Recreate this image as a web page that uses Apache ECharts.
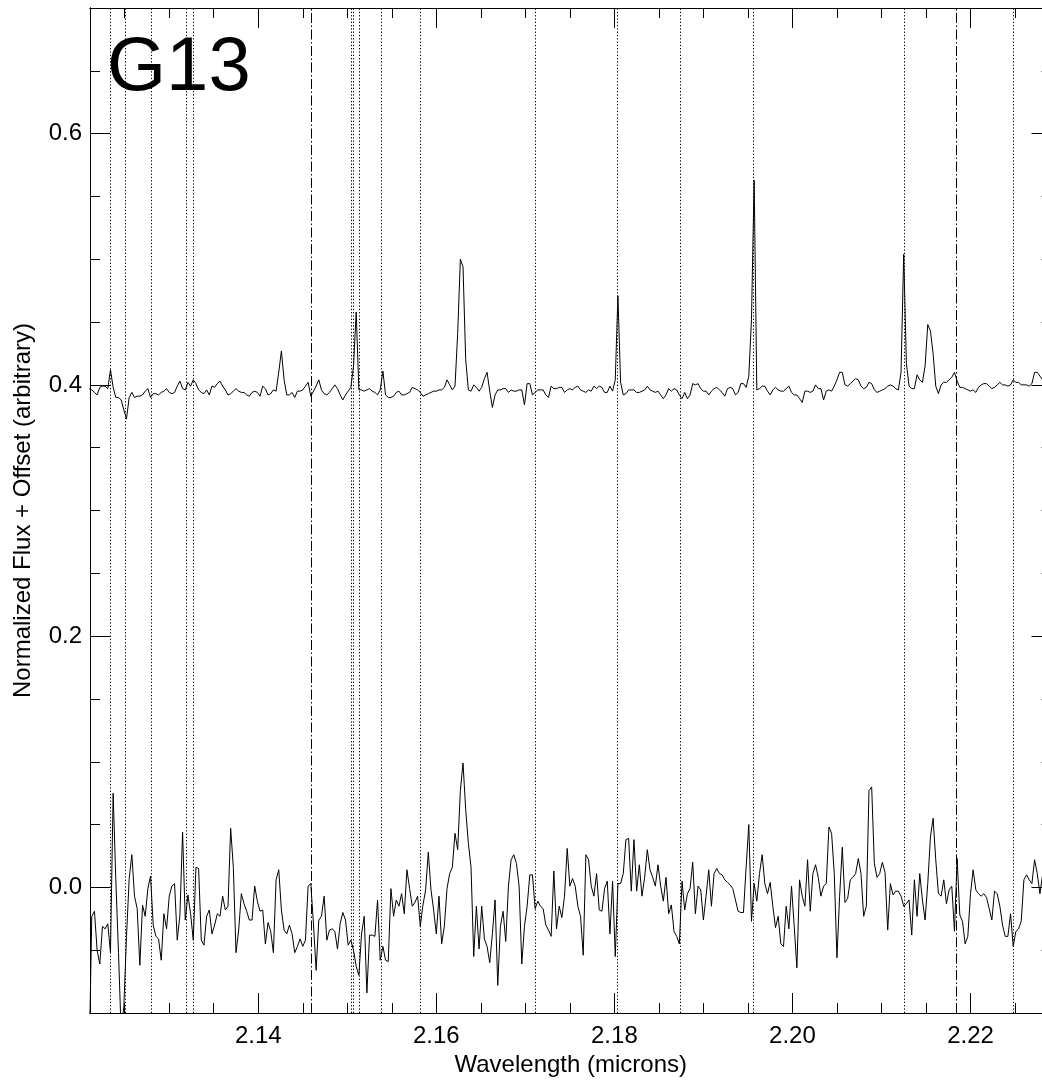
<!DOCTYPE html>
<html>
<head>
<meta charset="utf-8">
<script src="https://cdn.jsdelivr.net/npm/echarts@6/dist/echarts.min.js"></script>
<style>
  html, body { margin: 0; padding: 0; background: #ffffff; overflow: hidden; }
  /* the plot frame runs a few pixels past the right edge of the page */
  #chart { width: 1052px; height: 1082px; }
</style>
</head>
<body>
<div id="chart"></div>
<script>
// Wavelength grid of the extracted spectrum (microns)
const wavelengthStart = 2.1210;
const wavelengthStep = 0.0003;

// Normalized flux shifted up by +0.4
const fluxOffset = [
  0.397,0.396,0.394,0.392,0.398,0.399,0.399,0.397,0.412,0.398,
  0.390,0.390,0.388,0.380,0.373,0.390,0.394,0.390,0.391,0.391,
  0.392,0.395,0.397,0.390,0.393,0.393,0.392,0.394,0.395,0.397,
  0.394,0.393,0.394,0.399,0.403,0.397,0.396,0.402,0.399,0.404,
  0.401,0.396,0.394,0.393,0.396,0.392,0.399,0.398,0.401,0.403,
  0.399,0.396,0.392,0.393,0.395,0.397,0.395,0.394,0.394,0.392,
  0.391,0.394,0.395,0.394,0.391,0.399,0.397,0.392,0.393,0.396,
  0.395,0.410,0.427,0.404,0.392,0.392,0.394,0.390,0.395,0.395,
  0.396,0.399,0.402,0.391,0.395,0.399,0.404,0.396,0.393,0.392,
  0.394,0.397,0.400,0.397,0.392,0.388,0.392,0.395,0.398,0.415,
  0.458,0.396,0.396,0.395,0.396,0.397,0.395,0.394,0.392,0.396,
  0.411,0.392,0.390,0.390,0.391,0.394,0.395,0.392,0.392,
  0.393,0.394,0.398,0.397,0.396,0.394,0.391,0.392,0.393,0.394,
  0.395,0.395,0.396,0.396,0.398,0.404,0.400,0.396,0.399,0.441,
  0.500,0.494,0.420,0.396,0.395,0.400,0.398,0.395,0.398,0.405,
  0.410,0.395,0.382,0.392,0.396,0.396,0.397,0.397,0.394,0.396,
  0.395,0.395,0.396,0.396,0.384,0.401,0.401,0.392,0.394,0.396,
  0.396,0.396,0.392,0.390,0.399,0.397,0.397,0.398,0.398,0.394,
  0.396,0.397,0.396,0.398,0.399,0.396,0.395,0.394,0.396,0.395,
  0.399,0.397,0.399,0.398,0.394,0.394,0.399,0.395,0.404,0.471,
  0.402,0.392,0.393,0.396,0.396,0.396,0.394,0.394,0.395,0.396,
  0.399,0.396,0.395,0.394,0.395,0.392,0.389,0.392,0.397,0.395,
  0.397,0.396,0.392,0.389,0.394,0.389,0.392,0.401,0.400,0.401,
  0.397,0.395,0.395,0.392,0.395,0.397,0.398,0.396,
  0.394,0.391,0.397,0.398,0.397,0.392,0.394,0.401,0.401,0.398,
  0.407,0.452,0.563,0.396,0.397,0.399,0.399,0.395,0.392,0.396,
  0.398,0.396,0.395,0.395,0.397,0.399,0.394,0.392,0.392,0.389,
  0.386,0.395,0.395,0.394,0.395,0.400,0.397,0.397,0.388,0.395,
  0.396,0.395,0.399,0.404,0.410,0.410,0.400,0.399,0.401,0.403,
  0.405,0.404,0.399,0.397,0.398,0.402,0.401,0.396,0.394,0.395,
  0.396,0.397,0.399,0.400,0.399,0.397,0.396,0.410,0.504,0.417,
  0.399,0.397,0.397,0.408,0.404,0.402,0.415,0.448,0.443,0.425,
  0.399,0.393,0.400,0.402,0.402,0.404,0.406,0.410,0.403,0.398,
  0.398,0.397,0.396,0.395,0.396,0.394,0.398,0.400,0.401,0.401,
  0.399,0.397,0.398,0.400,0.402,0.400,0.400,0.399,0.400,0.404,
  0.402,0.402,0.400,0.400,0.400,0.399,0.401,0.410,0.410,0.407,
  0.404,0.403,0.402,0.402
];

// Residual flux around zero
const fluxResidual = [
  -0.140,-0.023,-0.019,-0.050,-0.061,-0.031,-0.033,-0.029,-0.052,0.075,
  0.006,-0.052,-0.115,-0.095,-0.039,0.007,0.026,-0.007,-0.017,-0.062,
  -0.014,-0.023,-0.001,0.009,-0.030,-0.039,-0.041,-0.058,-0.021,-0.033,
  -0.007,0.001,0.003,-0.042,-0.022,0.044,-0.026,-0.006,-0.021,-0.042,
  0.016,0.015,-0.042,-0.046,-0.023,-0.018,-0.037,-0.030,-0.021,-0.023,
  -0.007,-0.018,-0.015,0.047,0.016,-0.052,-0.034,-0.005,-0.013,-0.019,
  -0.026,-0.026,0.001,-0.011,-0.019,-0.018,-0.045,-0.028,-0.035,-0.052,
  0.006,0.014,-0.018,-0.034,-0.037,-0.030,-0.037,-0.052,-0.047,-0.041,
  -0.047,-0.042,0.001,0.003,-0.029,-0.066,-0.026,-0.023,-0.007,-0.042,
  -0.034,-0.033,-0.035,-0.049,-0.029,-0.020,-0.026,-0.046,-0.042,-0.050,
  -0.063,-0.070,-0.037,-0.023,-0.084,-0.038,-0.038,-0.039,-0.010,-0.058,
  -0.047,-0.058,-0.059,-0.001,-0.023,-0.010,-0.015,-0.005,-0.021,
  0.014,-0.001,-0.015,-0.012,-0.007,-0.031,-0.014,-0.002,0.028,-0.002,
  -0.018,-0.037,-0.007,-0.045,-0.031,-0.001,0.011,0.016,0.043,0.030,
  0.077,0.099,0.062,0.035,0.016,-0.055,-0.015,-0.049,-0.015,-0.041,
  -0.047,-0.060,-0.037,-0.010,-0.078,-0.031,-0.019,-0.043,0.001,0.022,
  0.026,0.019,0.001,-0.061,-0.031,-0.015,0.010,0.010,-0.017,-0.011,
  -0.015,-0.017,-0.030,-0.034,-0.039,0.013,-0.033,-0.015,-0.024,-0.007,
  0.031,0.001,0.007,0.001,-0.015,-0.023,-0.054,0.026,0.022,0.001,
  -0.007,0.011,-0.018,-0.019,-0.001,0.005,-0.037,0.005,-0.055,0.003,
  0.003,0.011,0.038,0.039,-0.003,0.038,-0.003,0.018,-0.007,0.008,
  0.030,0.014,0.008,0.001,0.018,0.001,-0.011,0.008,-0.021,-0.014,
  -0.035,-0.039,-0.045,0.005,-0.018,-0.005,-0.001,0.020,-0.021,0.001,
  -0.002,-0.026,-0.007,0.014,-0.015,0.011,0.015,0.011,
  0.010,0.006,0.004,0.002,-0.001,-0.010,-0.019,-0.020,-0.020,0.016,
  0.050,-0.027,0.003,-0.011,0.011,0.026,0.003,-0.005,0.004,-0.015,
  -0.032,-0.023,-0.045,-0.047,-0.015,-0.033,0.001,-0.031,-0.064,0.006,
  -0.007,-0.015,0.022,-0.019,0.011,0.018,0.008,-0.007,0.001,0.003,
  0.048,0.043,0.011,-0.056,-0.007,0.032,-0.012,-0.009,0.006,0.008,
  0.011,0.023,0.011,-0.023,-0.015,0.077,0.080,0.019,0.008,0.011,
  0.020,0.012,-0.034,0.003,-0.006,-0.003,-0.003,-0.007,-0.015,-0.013,
  -0.010,-0.038,0.006,-0.023,0.011,-0.010,-0.026,0.003,0.040,0.055,
  0.022,-0.005,-0.007,0.006,-0.013,-0.002,0.001,-0.035,0.023,-0.022,
  -0.027,-0.045,-0.039,-0.005,0.014,-0.002,-0.005,-0.007,-0.005,-0.008,
  -0.017,-0.026,-0.003,-0.005,-0.015,-0.030,-0.039,-0.039,-0.021,-0.047,
  -0.035,-0.033,-0.027,0.006,0.010,0.006,0.003,0.022,0.011,-0.005,
  0.010,0.006,0.001,0.003
];

// Line positions marked on the plot (microns)
const dottedLines = [
  2.12335, 2.12504, 2.12796, 2.13189, 2.13268, 2.15039, 2.15067, 2.15129,
  2.15379, 2.15814, 2.17114, 2.18027, 2.18738, 2.19558, 2.21259, 2.22483
];
const dashDotLines = [2.14593, 2.21843];

// Axis ranges and ticks
const xRange = [2.1211, 2.2291];
const yRange = [-0.1, 0.7];
const xMajorTicks = [2.14, 2.16, 2.18, 2.20, 2.22];
const xMinorTicks = [2.125, 2.13, 2.135, 2.145, 2.15, 2.155, 2.165, 2.17, 2.175,
                     2.185, 2.19, 2.195, 2.205, 2.21, 2.215, 2.225];
const yMajorTicks = [0.0, 0.2, 0.4, 0.6];
const yMinorTicks = [-0.05, 0.05, 0.1, 0.15, 0.25, 0.3, 0.35, 0.45, 0.5, 0.55, 0.65];

const FONT = 'Liberation Sans, Arial, Helvetica, sans-serif';
const INK = '#000000';

function toPairs(values) {
  return values.map((v, i) => [wavelengthStart + i * wavelengthStep, v]);
}

function makeAxis(kind, position, ticks, tickLen, withLabels, extra) {
  const range = kind === 'x' ? xRange : yRange;
  const axis = {
    type: 'value',
    position: position,
    min: range[0],
    max: range[1],
    axisLine: { show: true, onZero: false, lineStyle: { color: INK, width: 1 } },
    axisTick: {
      show: true, inside: true, length: tickLen, customValues: ticks,
      lineStyle: { color: INK, width: 1 }
    },
    axisLabel: {
      show: withLabels,
      customValues: ticks,
      color: INK,
      fontFamily: FONT,
      fontSize: 24,
      margin: kind === 'x' ? 11 : 8,
      formatter: (v) => kind === 'x' ? v.toFixed(2) : v.toFixed(1)
    },
    splitLine: { show: false },
    minorTick: { show: false },
    splitArea: { show: false }
  };
  return Object.assign(axis, extra || {});
}

const chart = echarts.init(document.getElementById('chart'), null, { renderer: 'canvas' });

const markLineData = dottedLines.map(v => ({
  xAxis: v,
  lineStyle: { type: [1.3, 2], color: INK, width: 1 }
})).concat(dashDotLines.map(v => ({
  xAxis: v,
  lineStyle: { type: [10, 2.5, 1.5, 2.5], color: INK, width: 1 }
})));

chart.setOption({
  animation: false,
  backgroundColor: '#ffffff',
  grid: { left: 90, top: 8, right: 0.5, bottom: 69, containLabel: false, outerBoundsMode: 'none' },
  xAxis: [
    makeAxis('x', 'bottom', xMajorTicks, 20, true, {
      name: 'Wavelength (microns)',
      nameLocation: 'middle',
      nameGap: 38,
      nameTextStyle: { color: INK, fontFamily: FONT, fontSize: 24 }
    }),
    makeAxis('x', 'bottom', xMinorTicks, 10, false),
    makeAxis('x', 'top', xMajorTicks, 20, false),
    makeAxis('x', 'top', xMinorTicks, 10, false)
  ],
  yAxis: [
    makeAxis('y', 'left', yMajorTicks, 20, true, {
      name: 'Normalized Flux + Offset (arbitrary)',
      nameLocation: 'middle',
      nameGap: 55,
      nameTextStyle: { color: INK, fontFamily: FONT, fontSize: 24 }
    }),
    makeAxis('y', 'left', yMinorTicks, 10, false),
    makeAxis('y', 'right', yMajorTicks, 20, false),
    makeAxis('y', 'right', yMinorTicks, 10, false)
  ],
  graphic: [{
    type: 'text',
    left: 107,
    top: 31,
    z: 100,
    style: {
      text: 'G13',
      fontFamily: FONT,
      fontSize: 76,
      fill: INK
    }
  }],
  series: [
    {
      type: 'line',
      name: 'offset',
      xAxisIndex: 0,
      yAxisIndex: 0,
      data: toPairs(fluxOffset),
      showSymbol: false,
      symbol: 'none',
      clip: true,
      silent: true,
      lineStyle: { color: INK, width: 1 },
      markLine: {
        silent: true,
        precision: 6,
        symbol: ['none', 'none'],
        label: { show: false },
        animation: false,
        data: markLineData
      }
    },
    {
      type: 'line',
      name: 'residual',
      xAxisIndex: 0,
      yAxisIndex: 0,
      data: toPairs(fluxResidual),
      showSymbol: false,
      symbol: 'none',
      clip: true,
      silent: true,
      lineStyle: { color: INK, width: 1 }
    }
  ]
});
</script>
</body>
</html>
